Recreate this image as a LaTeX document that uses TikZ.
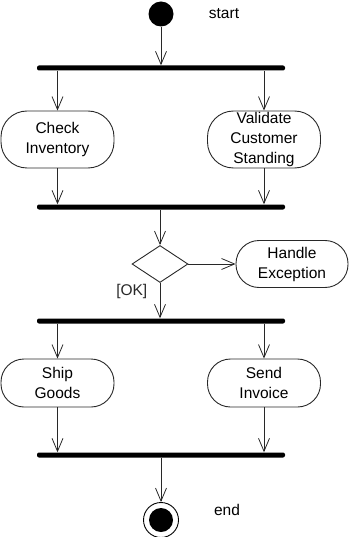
\documentclass[tikz,border=0pt]{standalone}
\usepackage{fontspec}
\setmainfont{Liberation Sans}
\usetikzlibrary{positioning, calc, arrows.meta, shapes.geometric}
\definecolor{edge}{RGB}{40,40,40}

\tikzset{
  action/.style={draw=edge, line width=0.9pt, rounded corners=26pt, align=center, minimum width=113pt, inner sep=0pt},
  syncbar/.style={fill=black, rounded corners=2pt, minimum width=248pt, minimum height=5pt, inner sep=0pt},
  flow/.style={-{Straight Barb[length=13pt,width=11pt]}, edge, line width=0.8pt},
}

\begin{document}
\begin{tikzpicture}[x=1pt, y=-1pt, font=\fontsize{15.5}{20}\selectfont]
    \useasboundingbox (0,0) rectangle (350,537);

    \node[circle, fill=black, minimum size=25pt, inner sep=0pt] (start) at (161,14) {};
    \node (startlbl) at (224,14) {start};

    \node[syncbar] (fork1) at (161,68) {};
    \node[action, minimum height=57pt] (check) at (57.5,139.5) {Check\\Inventory};
    \node[action, minimum height=57pt] (valid) at (264,139.5) {Validate\\Customer\\Standing};
    \node[syncbar] (join1) at (161,207) {};

    \node[diamond, draw=edge, line width=0.9pt, minimum width=56pt, minimum height=37pt, inner sep=0pt] (dec) at (160,264) {};
    \node[action, rounded corners=23pt, minimum width=112pt, minimum height=47pt] (handle) at (292,264) {Handle\\Exception};

    \node[syncbar] (fork2) at (161,321) {};
    \node[action, rounded corners=23pt, minimum height=48pt] (ship) at (57.5,383) {Ship\\Goods};
    \node[action, rounded corners=23pt, minimum height=48pt] (invoice) at (264,383) {Send\\Invoice};
    \node[syncbar] (join2) at (161,455) {};

    \node[circle, draw=black, line width=0.9pt, minimum size=35pt, inner sep=0pt] (stop) at (161,520) {};
    \node[circle, fill=black, minimum size=24pt, inner sep=0pt] (stopdot) at (stop.center) {};
    \node (stoplbl) at (227,510) {end};

    \draw[flow] (start) -- (fork1);
    \draw[flow] (fork1.south -| check) -- (check);
    \draw[flow] (fork1.south -| valid) -- (valid);
    \draw[flow] (check) -- (join1.north -| check);
    \draw[flow] (valid) -- (join1.north -| valid);
    \draw[flow] (join1.south -| dec) -- (dec);
    \draw[flow] (dec) -- (handle);
    \draw[flow] (dec) -- node[pos=0.25, left=9pt] {[OK]} (fork2.north -| dec);
    \draw[flow] (fork2.south -| ship) -- (ship);
    \draw[flow] (fork2.south -| invoice) -- (invoice);
    \draw[flow] (ship) -- (join2.north -| ship);
    \draw[flow] (invoice) -- (join2.north -| invoice);
    \draw[flow] (join2) -- (stop);
\end{tikzpicture}
\end{document}
